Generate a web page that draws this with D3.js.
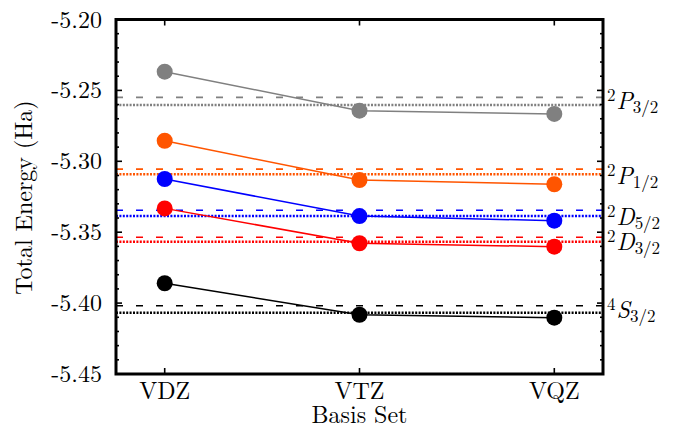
<!DOCTYPE html>
<html><head><meta charset="utf-8">
<script src="https://cdn.jsdelivr.net/npm/d3@7"></script>
<style>
html,body{margin:0;padding:0;background:#fff;}
</style></head>
<body><svg id="c" width="680" height="429"></svg>
<script>
// ---- data ----
const basisSets = ["VDZ", "VTZ", "VQZ"];
const stateMult = ["2", "2", "2", "2", "4"];
const stateLetter = ["P", "P", "D", "D", "S"];
const stateJ = ["3/2", "1/2", "5/2", "3/2", "3/2"];
const seriesColors = ["#808080", "#ff5500", "#0000ff", "#ff0000", "#000000"];
const energyP32 = [-5.2368, -5.2643, -5.2666];
const energyP12 = [-5.2855, -5.3132, -5.3162];
const energyD52 = [-5.3125, -5.3386, -5.3419];
const energyD32 = [-5.3332, -5.3578, -5.3602];
const energyS32 = [-5.3860, -5.4082, -5.4103];
const dashedRef = [-5.2549, -5.3055, -5.3345, -5.3536, -5.4019];
const dottedRef = [-5.2603, -5.3091, -5.3386, -5.3567, -5.4068];
const labelEnergy = [-5.2575, -5.3104, -5.3392, -5.3566, -5.4049];
const yTicks = [-5.20, -5.25, -5.30, -5.35, -5.40, -5.45];
const yDomain = [-5.45, -5.20];

const series = [energyP32, energyP12, energyD52, energyD32, energyS32];
const FONT = "'Latin Modern Roman', 'Liberation Serif', serif";

// ---- layout ----
const L = 116, R = 603, T = 19.5, B = 374;
const svg = d3.select("#c");
const x = d3.scaleLinear().domain([-0.25, 2.25]).range([L, R]);
const y = d3.scaleLinear().domain(yDomain).range([B, T]);

// reference lines
const g = svg.append("g");
series.forEach((s, i) => {
  g.append("line").attr("x1", L).attr("x2", R)
    .attr("y1", y(dashedRef[i])).attr("y2", y(dashedRef[i]))
    .attr("stroke", seriesColors[i]).attr("stroke-width", 1.6)
    .attr("stroke-dasharray", "7,13");
  g.append("line").attr("x1", L).attr("x2", R)
    .attr("y1", y(dottedRef[i])).attr("y2", y(dottedRef[i]))
    .attr("stroke", seriesColors[i]).attr("stroke-width", 2.4)
    .attr("stroke-dasharray", "2,1.4");
});

// data lines & markers
const line = d3.line().x((d, j) => x(j)).y(d => y(d));
series.forEach((s, i) => {
  g.append("path").attr("d", line(s)).attr("fill", "none")
    .attr("stroke", seriesColors[i]).attr("stroke-width", 1.5);
  g.selectAll(null).data(s).enter().append("circle")
    .attr("cx", (d, j) => x(j)).attr("cy", d => y(d)).attr("r", 8)
    .attr("fill", seriesColors[i]);
});

// axes (ticks inward on all four sides)
const minor = d3.range(-5.45, -5.1999, 0.01);
const ax = svg.append("g");
minor.forEach(v => {
  const yy = y(v);
  const isMajor = yTicks.some(t => Math.abs(t - v) < 1e-6);
  const len = isMajor ? 6 : 3;
  ax.append("line").attr("x1", L).attr("x2", L + len).attr("y1", yy).attr("y2", yy)
    .attr("stroke", "#000").attr("stroke-width", 1.6);
  ax.append("line").attr("x1", R).attr("x2", R - len).attr("y1", yy).attr("y2", yy)
    .attr("stroke", "#000").attr("stroke-width", 1.6);
});
basisSets.forEach((b, j) => {
  ax.append("line").attr("x1", x(j)).attr("x2", x(j)).attr("y1", B).attr("y2", B - 6)
    .attr("stroke", "#000").attr("stroke-width", 1.6);
  ax.append("line").attr("x1", x(j)).attr("x2", x(j)).attr("y1", T).attr("y2", T + 6)
    .attr("stroke", "#000").attr("stroke-width", 1.6);
  ax.append("text").attr("x", x(j)).attr("y", 399).attr("text-anchor", "middle")
    .attr("font-family", FONT).attr("font-size", 24).text(b);
});
yTicks.forEach(t => {
  ax.append("text").attr("x", 102).attr("y", y(t) + 8).attr("text-anchor", "end")
    .attr("font-family", FONT).attr("font-size", 24).text(t.toFixed(2));
});
ax.append("rect").attr("x", L).attr("y", T).attr("width", R - L).attr("height", B - T)
  .attr("fill", "none").attr("stroke", "#000").attr("stroke-width", 3);

// axis titles
svg.append("text").attr("x", (L + R) / 2).attr("y", 423).attr("text-anchor", "middle")
  .attr("font-family", FONT).attr("font-size", 24).text("Basis Set");
svg.append("text").attr("transform", "translate(32,197.5) rotate(-90)")
  .attr("text-anchor", "middle").attr("font-family", FONT).attr("font-size", 24)
  .text("Total Energy (Ha)");

// state labels
labelEnergy.forEach((e, i) => {
  const t = svg.append("text").attr("x", 607).attr("y", y(e) + 8)
    .attr("font-family", FONT).attr("font-size", 24);
  t.append("tspan").attr("font-size", 17).attr("dy", -8).text(stateMult[i]);
  t.append("tspan").attr("font-style", "italic").attr("dy", 8).attr("dx", 1).text(stateLetter[i]);
  t.append("tspan").attr("font-size", 17).attr("dy", 4).text(stateJ[i]);
});
</script></body></html>
